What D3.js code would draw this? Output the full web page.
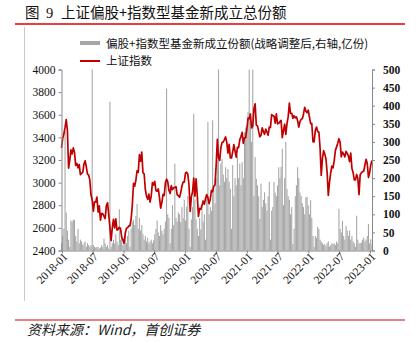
<!DOCTYPE html>
<html>
<head>
<meta charset="utf-8">
<script src="https://cdn.jsdelivr.net/npm/d3@7/dist/d3.min.js"></script>
<style>
  body { margin: 0; background: #fff; }
  svg { display: block; }
</style>
</head>
<body>
<svg id="chart" width="420" height="343"></svg>
<script>
// Weekly observations, first Friday of the series
const firstWeek = "2017-12-29";

// 上证指数 weekly close
const indexValues = [
  3307,
  // 2018
  3391, 3429, 3488, 3558,
  3462, 3129, 3199, 3289,
  3254, 3307, 3269, 3152, 3169,
  3131, 3159, 3071, 3082,
  3091, 3163, 3193, 3141,
  3075, 3067, 3022, 2890, 2847,
  2747, 2831, 2829, 2873,
  2740, 2795, 2669, 2729, 2725,
  2702, 2682, 2797, 2821,
  2716, 2606, 2486, 2598,
  2676, 2599, 2679, 2580, 2588,
  2605, 2593, 2516, 2494,
  // 2019
  2464, 2553, 2596, 2601,
  2618, 2618, 2682, 2804,
  2994, 2969, 3021, 3104, 3090,
  3247, 3189, 3270, 3086,
  3078, 2939, 2882, 2853, 2898,
  2827, 2881, 3001, 2979,
  3011, 2930, 2924, 2944,
  2868, 2775, 2824, 2897, 2886,
  2999, 3031, 3006, 2932,
  2905, 2973, 2938, 2954,
  2958, 2964, 2891, 2885, 2871,
  2912, 2968, 3005, 3005,
  // 2020
  3083, 3092, 3075, 2977, 2746,
  2876, 2917, 3040, 2880,
  3034, 2887, 2702, 2772,
  2764, 2797, 2838, 2809,
  2860, 2895, 2868, 2814, 2852,
  2931, 2920, 2968, 2980,
  3153, 3383, 3214, 3197, 3310,
  3354, 3360, 3381, 3404,
  3355, 3260, 3338, 3219,
  3218, 3272, 3336, 3278, 3225,
  3312, 3310, 3378, 3408,
  3444, 3347, 3395, 3397,
  // 2021
  3473, 3570, 3566, 3606, 3483,
  3496, 3655, 3696, 3509,
  3502, 3453, 3405, 3418,
  3484, 3451, 3427, 3474, 3447,
  3419, 3490, 3487, 3601,
  3592, 3589, 3525, 3607,
  3519, 3524, 3539, 3550, 3397,
  3458, 3517, 3427, 3522,
  3581, 3703, 3613, 3613,
  3568, 3592, 3572, 3582, 3547,
  3491, 3539, 3560, 3564,
  3607, 3666, 3632, 3618, 3640,
  // 2022
  3580, 3521, 3523, 3361,
  3361, 3462, 3491, 3451,
  3448, 3309, 3064, 3212,
  3282, 3252, 3211, 3087, 2886,
  3002, 3084, 3147, 3130,
  3195, 3285, 3316, 3349,
  3388, 3356, 3228, 3270, 3253,
  3227, 3276, 3258, 3236,
  3186, 3262, 3126, 3088, 3024,
  3024, 3072, 3038, 2893,
  3071, 3087, 3097, 3101,
  3156, 3206, 3167, 3045, 3089,
  // 2023
  3158, 3195
];

// 偏股+指数型基金新成立份额 (亿份), weekly
const issuance = [
  20,
  // 2018
  40, 60, 330, 105,
  55, 30, 10, 83,
  80, 85, 85, 40, 25,
  60, 20, 30, 25,
  15, 20, 25, 10,
  20, 15, 10, 15, 500,
  15, 10, 8, 10,
  10, 5, 8, 15, 10,
  33, 20, 10, 15,
  5, 411, 10, 20,
  30, 20, 45, 25, 15,
  114, 30, 40, 15,
  // 2019
  30, 45, 20, 40,
  55, 10, 60, 80,
  85, 70, 95, 128, 60,
  90, 55, 70, 45,
  30, 40, 25, 35, 20,
  25, 30, 20, 28,
  45, 60, 83, 50,
  40, 70, 55, 45, 60,
  80, 447, 100, 90,
  20, 60, 125, 70,
  240, 90, 80, 105, 100,
  78, 120, 90, 140,
  // 2020
  83, 120, 150, 60, 10,
  86, 120, 378, 140,
  86, 60, 40, 90,
  58, 120, 80, 100,
  30, 150, 355, 100, 120,
  110, 360, 170, 130,
  200, 250, 500, 180, 240,
  253, 210, 190, 230,
  200, 225, 190, 170,
  60, 236, 150, 200, 180,
  263, 200, 240, 180,
  244, 200, 327, 340,
  // 2021
  340, 383, 500, 380, 300,
  500, 150, 258, 198,
  180, 150, 87, 185,
  120, 140, 161, 130, 110,
  150, 190, 30, 110,
  120, 189, 160, 150,
  180, 230, 200, 231, 281,
  125, 200, 300, 170,
  150, 140, 100, 120,
  18, 60, 150, 180, 230,
  200, 160, 150, 130,
  120, 100, 147, 148, 125,
  // 2022
  100, 139, 90, 40,
  10, 40, 35, 65,
  59, 30, 25, 20,
  15, 18, 12, 20, 25,
  10, 15, 20, 18,
  20, 15, 25, 20,
  115, 60, 50, 82, 40,
  30, 68, 55, 40,
  55, 30, 40, 25, 20,
  10, 96, 30, 20,
  20, 22, 30, 36,
  25, 30, 40, 73, 20,
  // 2023
  31, 15
];

const leftTicks = [2400, 2600, 2800, 3000, 3200, 3400, 3600, 3800, 4000];
const rightTicks = [0, 50, 100, 150, 200, 250, 300, 350, 400, 450, 500];
const xTickLabels = ["2018-01", "2018-07", "2019-01", "2019-07", "2020-01", "2020-07",
                     "2021-01", "2021-07", "2022-01", "2022-07", "2023-01"];

const titleParts = ["图", "9", "上证偏股+指数型基金新成立总份额"];
const barLegend = "偏股+指数型基金新成立份额(战略调整后,右轴,亿份)";
const lineLegend = "上证指数";
const sourceText = "资料来源：Wind，首创证券";

const RED = "#c00000";
const GRAY = "#a6a6a6";
const NUM_FONT = "'Liberation Serif', 'Times New Roman', serif";
const CJK_FONT = "'Noto Sans CJK SC', sans-serif";

const svg = d3.select("#chart");

const parseDay = d3.timeParse("%Y-%m-%d");
const parseMonth = d3.timeParse("%Y-%m");
const start = parseDay(firstWeek);
const weeks = indexValues.map((_, i) => d3.timeDay.offset(start, 7 * i));

const plot = { left: 61.5, right: 372, top: 69.5, bottom: 250.5 };

const x = d3.scaleTime()
  .domain([weeks[0], weeks[weeks.length - 1]])
  .range([plot.left, plot.right]);
const yLeft = d3.scaleLinear().domain([2400, 4000]).range([plot.bottom, plot.top]);
const yRight = d3.scaleLinear().domain([0, 500]).range([plot.bottom, plot.top]).clamp(true);

// Header: figure number, title and red rule
const titleX = [25, 46, 61];
const title = svg.append("g")
  .attr("font-family", CJK_FONT).attr("font-size", 14.5).attr("fill", "#111");
titleParts.forEach((t, i) => {
  title.append("text")
    .attr("x", titleX[i]).attr("y", 18)
    .attr("font-family", i === 1 ? NUM_FONT : CJK_FONT)
    .text(t);
});
svg.append("line")
  .attr("x1", 15).attr("x2", 405).attr("y1", 24).attr("y2", 24)
  .attr("stroke", "#e00000").attr("stroke-width", 1.5);

// Thin frame line on the left
svg.append("line")
  .attr("x1", 24.5).attr("x2", 24.5).attr("y1", 27).attr("y2", 301)
  .attr("stroke", "#c8c8c8").attr("stroke-width", 1);

// Legend
svg.append("rect").attr("x", 80).attr("y", 41).attr("width", 20).attr("height", 4).attr("fill", GRAY);
svg.append("text").attr("x", 106).attr("y", 48)
  .attr("font-family", CJK_FONT).attr("font-size", 11.5).attr("fill", "#111")
  .text(barLegend);
svg.append("line").attr("x1", 80).attr("x2", 100).attr("y1", 61).attr("y2", 61)
  .attr("stroke", RED).attr("stroke-width", 2);
svg.append("text").attr("x", 106).attr("y", 65)
  .attr("font-family", CJK_FONT).attr("font-size", 11.5).attr("fill", "#111")
  .text(lineLegend);

// Bars (right axis)
const step = x(weeks[1]) - x(weeks[0]);
const barW = step * 0.9;
svg.append("g")
  .selectAll("rect")
  .data(issuance)
  .join("rect")
  .attr("x", (d, i) => x(weeks[i]) - barW / 2)
  .attr("y", d => yRight(d))
  .attr("width", barW)
  .attr("height", d => yRight(0) - yRight(d))
  .attr("fill", GRAY);

// Index line (left axis)
const line = d3.line()
  .x((d, i) => x(weeks[i]))
  .y(d => yLeft(d));
svg.append("path")
  .datum(indexValues)
  .attr("d", line)
  .attr("fill", "none")
  .attr("stroke", RED)
  .attr("stroke-width", 1.7)
  .attr("stroke-linejoin", "round");

// Axes
const axisColor = "#888";
const leftAxis = svg.append("g")
  .attr("transform", `translate(${plot.left},0)`)
  .call(d3.axisLeft(yLeft).tickValues(leftTicks).tickSize(3).tickPadding(3).tickFormat(d3.format("d")));
const rightAxis = svg.append("g")
  .attr("transform", `translate(${plot.right},0)`)
  .call(d3.axisRight(yRight).tickValues(rightTicks).tickSize(3).tickPadding(8).tickFormat(d3.format("d")));
const xTicks = xTickLabels.map(parseMonth);
const bottomAxis = svg.append("g")
  .attr("transform", `translate(0,${plot.bottom})`)
  .call(d3.axisBottom(x).tickValues(xTicks).tickSize(3).tickSizeOuter(0).tickFormat(d3.timeFormat("%Y-%m")));

[leftAxis, rightAxis, bottomAxis].forEach(g => {
  g.select(".domain").attr("stroke", axisColor);
  g.selectAll(".tick line").attr("stroke", axisColor);
  g.selectAll("text").attr("font-family", NUM_FONT).attr("font-size", 11.5).attr("fill", "#111");
});
rightAxis.selectAll("text").attr("font-weight", "bold");
bottomAxis.selectAll("text")
  .attr("text-anchor", "end")
  .attr("transform", "translate(3,4) rotate(-45)")
  .attr("dy", "0.35em")
  .attr("y", 0).attr("x", 0);

// Footer
svg.append("line")
  .attr("x1", 15).attr("x2", 405).attr("y1", 320).attr("y2", 320)
  .attr("stroke", "#e00000").attr("stroke-width", 1.2);
svg.append("text").attr("x", 27).attr("y", 335)
  .attr("font-family", CJK_FONT).attr("font-size", 14).attr("font-style", "italic")
  .attr("fill", "#222")
  .text(sourceText);
</script>
</body>
</html>
